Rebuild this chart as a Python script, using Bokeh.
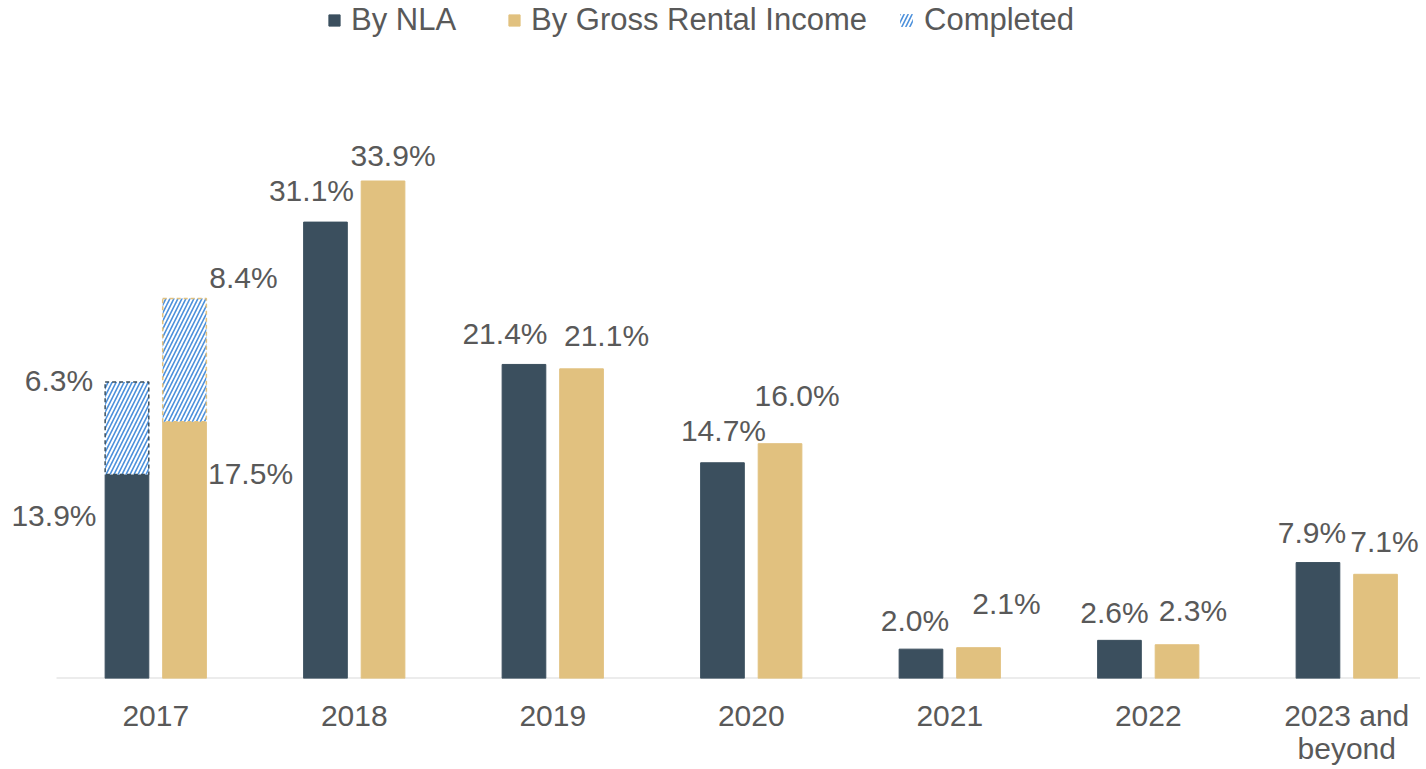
from bokeh.plotting import figure
from bokeh.models import Range1d, FixedTicker, Legend, LegendItem, ColumnDataSource, LabelSet
from bokeh.embed import file_html
from bokeh.resources import INLINE
from bokeh.core.properties import value

# ---- data ----
categories = ["2017", "2018", "2019", "2020", "2021", "2022", "2023 and\nbeyond"]
by_nla = [13.9, 31.1, 21.4, 14.7, 2.0, 2.6, 7.9]
by_gri = [17.5, 33.9, 21.1, 16.0, 2.1, 2.3, 7.1]
completed_categories = ["2017"]
completed_nla = [6.3]
completed_gri = [8.4]

# ---- layout / style ----
NLA_COLOR = "#3B4F5E"
GRI_COLOR = "#E1C17F"
HATCH_COLOR = "#4A8FDB"
TEXT_COLOR = "#595959"
FONT = "Liberation Sans"
SHIFT = 0.145
BAR_W = 0.22
PX_PER_CAT = 198.5
LEFT_PAD = 56  # px of empty frame left of the first category

# label pixel offsets relative to bar top (layout only)
nla_dx = [-73, -14, -19, 1, -6, -5, -6]
nla_dy = [41, -32, -31, -32, -29, -28, -30]
gri_dx = [66, 10, 25, 17, 28, 16, 9]
gri_dy = [52, -26, -33, -48, -44, -34, -33]
cmp_nla_dx, cmp_nla_dy = [-68], [-2]
cmp_gri_dx, cmp_gri_dy = [59], [-21]

idx = list(range(len(categories)))
cidx = [categories.index(c) for c in completed_categories]

FRAME_W = 1420
x_start = idx[0] - 0.5 - LEFT_PAD / PX_PER_CAT
x_end = x_start + FRAME_W / PX_PER_CAT

p = figure(frame_width=FRAME_W, frame_height=678, output_backend="svg", toolbar_location=None,
           x_range=Range1d(x_start, x_end), y_range=Range1d(0, 46.2),
           min_border_left=0, min_border_right=0, min_border_top=0,
           min_border_bottom=80)
p.outline_line_color = None
p.grid.visible = False
p.yaxis.visible = False
p.background_fill_color = None
p.border_fill_color = None

# baseline (category axis line) from left edge of first category to frame end
p.segment(x0=[idx[0] - 0.5], x1=[x_end], y0=[0], y1=[0], line_color="#D9D9D9", line_width=2)

src_nla = ColumnDataSource(dict(x=[i - SHIFT for i in idx], top=by_nla,
                                dx=nla_dx, dy=[-d for d in nla_dy],
                                txt=[f"{v:.1f}%" for v in by_nla]))
src_gri = ColumnDataSource(dict(x=[i + SHIFT for i in idx], top=by_gri,
                                dx=gri_dx, dy=[-d for d in gri_dy],
                                txt=[f"{v:.1f}%" for v in by_gri]))
base_nla = [by_nla[i] for i in cidx]
base_gri = [by_gri[i] for i in cidx]
src_cn = ColumnDataSource(dict(x=[i - SHIFT for i in cidx], bottom=base_nla,
                               top=[b + v for b, v in zip(base_nla, completed_nla)],
                               dx=cmp_nla_dx, dy=[-d for d in cmp_nla_dy],
                               txt=[f"{v:.1f}%" for v in completed_nla]))
src_cg = ColumnDataSource(dict(x=[i + SHIFT for i in cidx], bottom=base_gri,
                               top=[b + v for b, v in zip(base_gri, completed_gri)],
                               dx=cmp_gri_dx, dy=[-d for d in cmp_gri_dy],
                               txt=[f"{v:.1f}%" for v in completed_gri]))

r_nla = p.vbar(x="x", top="top", bottom=0, width=BAR_W, source=src_nla,
               fill_color=NLA_COLOR, line_color=NLA_COLOR)
r_gri = p.vbar(x="x", top="top", bottom=0, width=BAR_W, source=src_gri,
               fill_color=GRI_COLOR, line_color=GRI_COLOR)
r_cmp = None
for s, col in ((src_cn, NLA_COLOR), (src_cg, GRI_COLOR)):
    r = p.vbar(x="x", top="top", bottom="bottom", width=BAR_W, source=s,
               fill_color="white", hatch_pattern="/", hatch_color=HATCH_COLOR,
               hatch_scale=8, hatch_weight=1.6, line_color=None)
    if r_cmp is None:
        r_cmp = r
    p.vbar(x="x", top="top", bottom="bottom", width=BAR_W, source=s,
           fill_color=None, line_color=col, line_dash="4 3", line_width=1.5)

for s in (src_nla, src_gri, src_cn, src_cg):
    p.add_layout(LabelSet(x="x", y="top", text="txt", x_offset="dx", y_offset="dy",
                          source=s, text_align="center", text_baseline="middle",
                          text_font=value(FONT), text_font_size=value("30px"),
                          text_color=TEXT_COLOR))

# x axis labels (axis line drawn above as the baseline segment)
p.xaxis.ticker = FixedTicker(ticks=idx)
p.xaxis.major_label_overrides = {i: c for i, c in zip(idx, categories)}
p.xaxis.major_tick_line_color = None
p.xaxis.minor_tick_line_color = None
p.xaxis.axis_line_color = None
p.xaxis.major_label_standoff = 14
p.xaxis.major_label_text_font = FONT
p.xaxis.major_label_text_font_size = "30px"
p.xaxis.major_label_text_color = TEXT_COLOR
p.xaxis.major_label_text_line_height = 1.0

# legends
for label, rend, xloc, gw in (("By NLA", r_nla, 327, 14),
                              ("By Gross Rental Income", r_gri, 507, 14),
                              ("Completed", r_cmp, 898, 16)):
    lg = Legend(items=[LegendItem(label=label, renderers=[rend])],
                location=(xloc, 640), orientation="horizontal",
                glyph_width=gw, glyph_height=gw, label_standoff=10,
                padding=0, margin=0, border_line_color=None,
                background_fill_alpha=0,
                label_text_font=FONT, label_text_font_size="31px",
                label_text_color=TEXT_COLOR)
    p.add_layout(lg)

open("out.html", "w").write(file_html(p, INLINE))
